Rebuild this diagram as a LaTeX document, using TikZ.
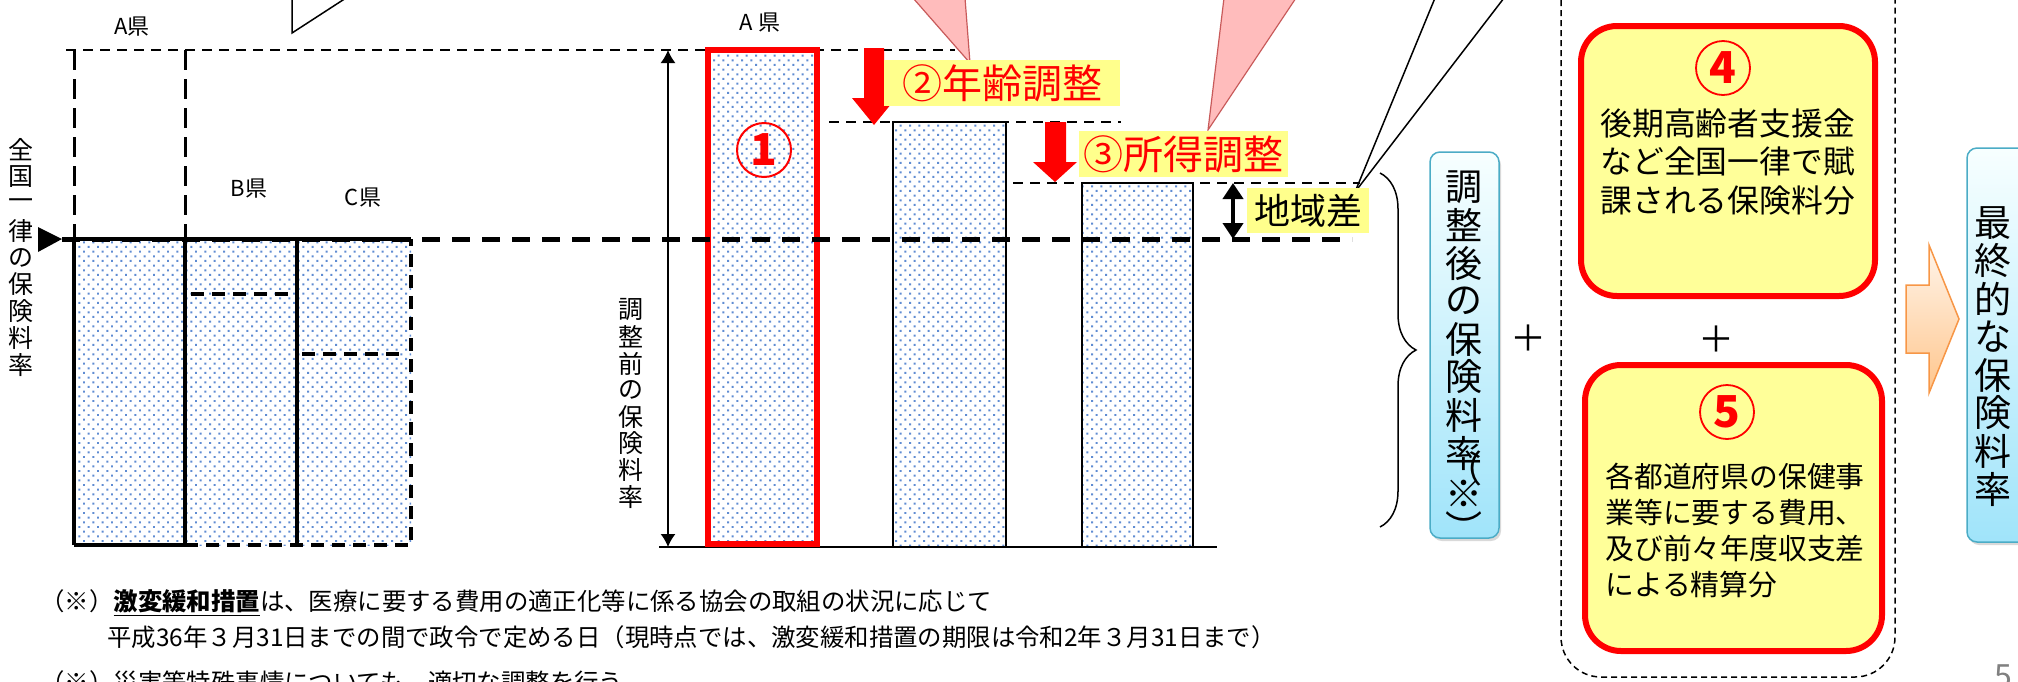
\documentclass[tikz,border=0pt]{standalone}
\usepackage{fontspec}
\setmainfont{Noto Sans CJK JP}
\usetikzlibrary{arrows.meta,patterns.meta,shadows,decorations.pathreplacing}
\definecolor{dotblue}{RGB}{95,140,210}
\definecolor{hiyellow}{RGB}{255,255,140}
\definecolor{boxyellow}{RGB}{255,255,153}
\definecolor{pinkfill}{RGB}{255,188,188}
\definecolor{pinkedge}{RGB}{200,90,90}
\definecolor{blueedge}{RGB}{75,172,198}
\definecolor{bluelow}{RGB}{160,228,250}
\definecolor{orangeedge}{RGB}{247,150,70}
\tikzset{
  dotfill/.style={pattern={Dots[distance=3.3pt,radius=0.7pt,angle=45]},pattern color=dotblue},
  barline/.style={line width=2pt},
  thinbar/.style={draw=black,line width=1.25pt},
  dashtop/.style={line width=1.4pt,dash pattern=on 5pt off 3.5pt},
  dashbox/.style={line width=1.5pt,dash pattern=on 10pt off 4.5pt},
  dashbar/.style={line width=2pt,dash pattern=on 6.5pt off 4pt},
  dashnat/.style={line width=2.5pt,dash pattern=on 9pt off 6pt},
  pref/.style={font=\fontsize{11}{13}\selectfont},
  vtxt/.style={font=\fontsize{12.5}{13.5}\selectfont},
  tag/.style={fill=hiyellow,text=red,minimum height=23pt,font=\fontsize{20}{22}\selectfont},
  num/.style={circle,draw=red,line width=1pt,minimum size=27pt,text=red,font=\bfseries\fontsize{22}{22}\selectfont},
  pinkcall/.style={fill=pinkfill,draw=pinkedge,line width=0.6pt},
  bluebox/.style={draw=blueedge,line width=0.75pt,rounded corners=5pt,top color=cyan!3,bottom color=bluelow,
    drop shadow={opacity=0.3,shadow xshift=1pt,shadow yshift=-1.5pt}},
  bigv/.style={font=\fontsize{18.5}{19}\selectfont},
  redbox/.style={draw=red,line width=3pt,fill=boxyellow,rounded corners=18pt},
  plus/.style={font=\fontsize{18}{18}\selectfont},
  note/.style={anchor=west,font=\fontsize{12.2}{14}\selectfont}
}
\begin{document}
\begin{tikzpicture}
  [x=0.5pt,y=-0.5pt,every node/.style={inner sep=0pt}]
  \useasboundingbox (0,0) rectangle (2018,681);

  % callout pointers coming in from above
  \draw[fill=white,line width=0.75pt] (292,-2) -- (292,33) -- (346,-2);
  \draw[pinkcall] (913,-2) -- (970,63) -- (965,-2);
  \draw[pinkcall] (1224,-2) -- (1208,130) -- (1296,-2);

  % left: prefectures before adjustment
  \node[pref] (prefA) at (132,27) {A県};
  \node[pref] (prefB) at (249,189) {B県};
  \node[pref] (prefC) at (363,198) {C県};
  \foreach \c [count=\i] in {全,国,一,律,の,保,険,料,率}
    \node[vtxt] (natl\i) at (21,{150+26.9*(\i-1)}) {\c};
  \fill (38,227) -- (62,239) -- (38,252) -- cycle;
  \fill[dotfill] (74,239) rectangle (411,545);
  \draw[dashbox] (74,50) -- (74,239) (185,50) -- (185,239);
  \draw[barline] (74,545) -- (74,239) -- (411,239);
  \draw[barline] (185,239) -- (185,545) (297,239) -- (297,545) (74,545) -- (185,545);
  \draw[dashbar] (185,545) -- (411,545) -- (411,239);
  \draw[dashbar] (191,294) -- (292,294) (302,354) -- (406,354);

  % level lines
  \foreach \y/\xa/\xb in {50/66/955,122/829/1121,183/1013/1360}
    \draw[dashtop] (\xa,\y) -- (\xb,\y);

  % before-adjustment rate
  \coordinate (vtop) at (668,50);
  \coordinate (vbot) at (668,547);
  \draw[{Latex[length=6.5pt,width=7.5pt]}-{Latex[length=6.5pt,width=7.5pt]},line width=0.75pt] (vtop) -- (vbot);
  \foreach \c [count=\i] in {調,整,前,の,保,険,料,率}
    \node[vtxt] (before\i) at (631,{310+26.7*(\i-1)}) {\c};
  \draw[line width=1pt] (659,547) -- (1217,547);

  % bars A, after age, after income
  \node[pref] (prefA2) at (760,23) {A 県};
  \draw[dotfill,draw=red,line width=3pt] (708,50) rectangle (817,544);
  \draw[dotfill,thinbar] (893,122) rectangle (1006,547);
  \draw[dotfill,thinbar] (1082,183) rectangle (1193,547);
  \draw[dashnat] (62,239) -- (1352,239);
  \node[num] (step1) at (764,150) {1};

  \fill[red] (864,48) -- (884,48) -- (884,98) -- (896,98) -- (874,125) -- (852,98) -- (864,98) -- cycle;
  \fill[red] (1045,122) -- (1066,122) -- (1066,162) -- (1077,162) -- (1055,182) -- (1033,162) -- (1045,162) -- cycle;
  \node[tag,minimum width=118pt] (ageadj) at (1002,83) {②年齢調整};
  \node[tag,minimum width=104.5pt] (incadj) at (1183.5,154) {③所得調整};

  % regional gap
  \coordinate (ctip) at (1355,192);
  \coordinate (cend1) at (1435,-2);
  \coordinate (cend2) at (1504,-2);
  \foreach \from/\to in {ctip/cend1,ctip/cend2}
    \draw[line width=0.75pt] (\from) -- (\to);
  \node[fill=hiyellow,minimum width=61pt,minimum height=22.5pt,font=\fontsize{18}{20}\selectfont] (gap) at (1308,210.5) {地域差};
  \coordinate (gtop) at (1233,183);
  \coordinate (gbot) at (1233,239);
  \draw[{Triangle[length=8pt,width=10pt]}-{Triangle[length=8pt,width=10pt]},line width=2pt] (gtop) -- (gbot);

  % brace and adjusted rate
  \coordinate (btop) at (1380,173);
  \coordinate (bbot) at (1380,527);
  \draw[decorate,decoration={brace,amplitude=18pt},line width=0.75pt] (btop) -- (bbot);
  \node[bluebox,minimum width=34.5pt,minimum height=193pt] (adj) at (1464.5,345) {};
  \foreach \c [count=\i] in {調,整,後,の,保,険,料,率}
    \node[bigv] (adj\i) at (1464,{187+38*(\i-1)}) {\c};
  \node[bigv] (adjl) at (1464,468) {（};
  \node[bigv] (adjm) at (1464,494) {※};
  \node[bigv] (adjr) at (1464,527) {︶};
  \node[plus] (plus1) at (1528,338) {＋};

  % nationwide parts
  \draw[line width=0.75pt,dash pattern=on 3pt off 2pt,rounded corners=20pt] (1561,-40) rectangle (1895,677);
  \node[redbox,minimum width=147pt,minimum height=135pt] (box4) at (1728,161) {};
  \node[num,line width=0.9pt] (step4) at (1723,68) {4};
  \node[align=left,anchor=west,font=\fontsize{15.9}{19.25}\selectfont] (txt4) at (1600,161.5)
    {後期高齢者支援金\\など全国一律で賦\\課される保険料分};
  \node[plus] (plus2) at (1716,339) {＋};
  \node[redbox,minimum width=148.5pt,minimum height=143pt] (box5) at (1733.5,508) {};
  \node[num,line width=0.9pt] (step5) at (1727,412) {5};
  \node[align=left,anchor=west,font=\fontsize{14.4}{18}\selectfont] (txt5) at (1605,531)
    {各都道府県の保健事\\業等に要する費用、\\及び前々年度収支差\\による精算分};

  % final rate
  \draw[draw=orangeedge,line width=0.75pt,top color=orange!8,bottom color=orange!45]
    (1906,285) -- (1929,285) -- (1929,245) -- (1959,319) -- (1929,393) -- (1929,353) -- (1906,353) -- cycle;
  \node[bluebox,minimum width=36.5pt,minimum height=197pt] (final) at (2003.5,345) {};
  \foreach \c [count=\i] in {最,終,的,な,保,険,料,率}
    \node[bigv] (fin\i) at (1993,{223+38*(\i-1)}) {\c};

  % notes
  \node[note] (note1) at (40,603) {（※）\textbf{\underline{激変緩和措置}}は、医療に要する費用の適正化等に係る協会の取組の状況に応じて};
  \node[note] (note2) at (107,637) {平成36年３月31日までの間で政令で定める日（現時点では、激変緩和措置の期限は令和2年３月31日まで）};
  \node[note] (note3) at (40,682) {（※）災害等特殊事情についても、適切な調整を行う};
  \node[anchor=north,text=gray,font=\fontsize{16}{16}\selectfont] (page) at (2003,664) {5};
\end{tikzpicture}
\end{document}
